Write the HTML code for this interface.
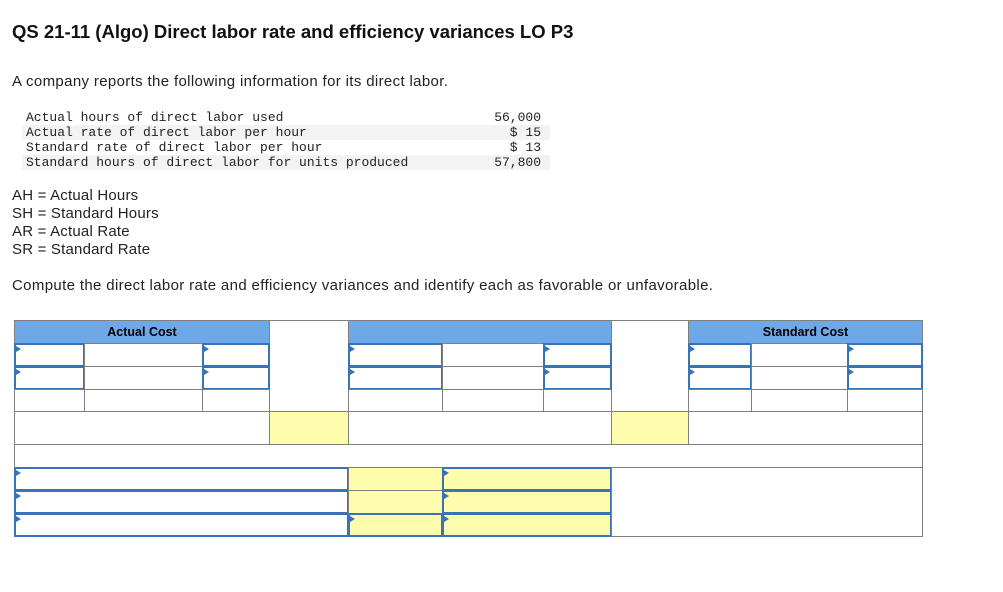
<!DOCTYPE html>
<html><head><meta charset="utf-8"><style>
body{margin:0;width:1003px;height:592px;background:#fff;position:relative;font-family:"Liberation Sans",sans-serif;color:#222;overflow:hidden}
.a{position:absolute}
.t{font-size:15px;letter-spacing:0.35px;white-space:nowrap}
.mono{font-family:"Liberation Mono",monospace;font-size:13px;white-space:pre}
.c{position:absolute;box-sizing:border-box;border:1px solid #808080;background:#fff}
.h{background:#6fa8e6;font-weight:bold;font-size:12.5px;text-align:center;line-height:22px;color:#000}
.y{background:#fdfdab}
.in{border:2px solid #3a72b8}
.in::before{content:"";position:absolute;left:0;top:1px;border-left:5px solid #3a72b8;border-top:3px solid transparent;border-bottom:3px solid transparent}
</style></head><body>
<div class="a" style="left:12px;top:21px;font-size:18.5px;font-weight:bold;color:#111">QS 21-11 (Algo) Direct labor rate and efficiency variances LO P3</div>
<div class="a t" style="left:12px;top:73px">A company reports the following information for its direct labor.</div>
<div class="a" style="left:22px;top:110px;width:528px">
<div class="mono" style="height:15px;line-height:15px;padding-left:4px">Actual hours of direct labor used</div>
<div class="mono" style="height:15px;line-height:15px;padding-left:4px;background:#f3f3f3">Actual rate of direct labor per hour</div>
<div class="mono" style="height:15px;line-height:15px;padding-left:4px">Standard rate of direct labor per hour</div>
<div class="mono" style="height:15px;line-height:15px;padding-left:4px;background:#f3f3f3">Standard hours of direct labor for units produced</div>
<div class="mono a" style="left:460px;top:0;line-height:15px;text-align:right;width:59px">56,000
  $ 15
  $ 13
57,800</div>
</div>
<div class="a t" style="left:12px;top:187px;line-height:18px;letter-spacing:0.2px">AH = Actual Hours<br>SH = Standard Hours<br>AR = Actual Rate<br>SR = Standard Rate</div>
<div class="a t" style="left:12px;top:277px">Compute the direct labor rate and efficiency variances and identify each as favorable or unfavorable.</div>
<div id="grid"></div>
<script>
const g=document.getElementById('grid');
function cell(x1,y1,x2,y2,cls,txt,name,inter){
const d=document.createElement('div');
d.className='c '+(cls||'');
d.style.left=x1+'px';d.style.top=y1+'px';d.style.width=(x2-x1+1)+'px';d.style.height=(y2-y1+1)+'px';
if(txt)d.textContent=txt;


g.appendChild(d);}
const R=[320,343,366,389,411,444,467,490,513,536];
cell(14,R[0],269,R[1],'h','Actual Cost','actual-cost-header',false);
cell(348,R[0],611,R[1],'h','','middle-header',false);
cell(688,R[0],922,R[1],'h','Standard Cost','standard-cost-header',false);
cell(269,R[0],348,R[4],'','','spacer-cell',false);
cell(611,R[0],688,R[4],'','','spacer-cell',false);
const cols=[[14,84,1],[84,202,0],[202,269,1],[348,442,1],[442,543,0],[543,611,1],[688,751,1],[751,847,0],[847,922,1]];
for(let r=1;r<=3;r++)for(const c of cols){const inp=c[2]&&r<3;cell(c[0],R[r],c[1],R[r+1],inp?'in':'',"",inp?'input-cell':'grid-cell',inp);}
cell(14,R[4],269,R[5],'','','result-label',false);
cell(269,R[4],348,R[5],'y','','rate-total',false);
cell(348,R[4],611,R[5],'','','result-label',false);
cell(611,R[4],688,R[5],'y','','efficiency-total',false);
cell(688,R[4],922,R[5],'','','result-label',false);
cell(14,R[5],922,R[6],'','','blank-row',false);
for(let r=6;r<=8;r++){
cell(14,R[r],348,R[r+1],'in','','variance-label-input',true);
cell(348,R[r],442,R[r+1],r==8?'y in':'y','','variance-amount',r==8);
cell(442,R[r],611,R[r+1],'y in','','variance-type-input',true);}
cell(611,R[6],922,R[9],'','','blank-area',false);
</script>
</body></html>
